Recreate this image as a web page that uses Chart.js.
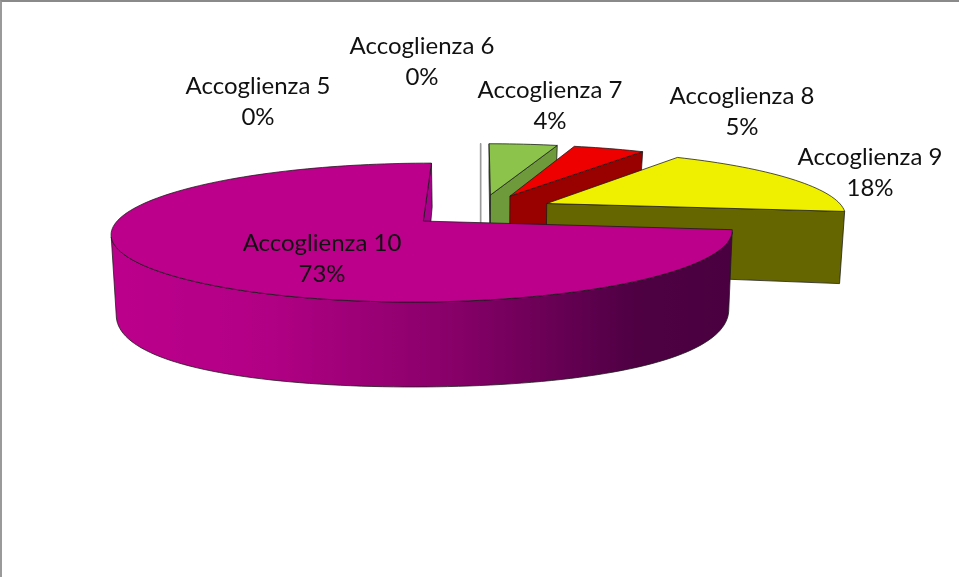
<!DOCTYPE html>
<html>
<head>
<meta charset="utf-8">
<style>
  html, body { margin: 0; padding: 0; background: #fff; }
  #wrap { position: relative; width: 959px; height: 577px; overflow: hidden; }
  #wrap::after { content: ""; position: absolute; left: 0; top: 0; right: 0; bottom: 0; border-top: 2px solid #8a8a8a; border-left: 2px solid #9a9a9a; }
  canvas { display: block; }
</style>
<script src="https://cdn.jsdelivr.net/npm/chart.js@4"></script>
</head>
<body>
<div id="wrap"><canvas id="pie3d" width="959" height="577"></canvas></div>
<script>
const categories = ["Accoglienza 5", "Accoglienza 6", "Accoglienza 7", "Accoglienza 8", "Accoglienza 9", "Accoglienza 10"];
const percentages = [0, 0, 4.4, 4.6, 18, 73];

const topColors = ["#d8d8d8", "#d8d8d8", "#8BC34B", "#EE0000", "#EFEF00", "#BC008C"];
const wallColors = ["#8c8c8c", "#8c8c8c", "#6F9A3C", "#990000", "#666600", "#A8008A"];
const labelCenters = [[258, 86], [422, 46], [550, 90], [742, 96], [870, 157], [322, 243]];

// prospettiva: centro, semiassi e distanza della camera
const view = { px: 480.6, py: 210.2, rx: 298, ry: 64, dist: 6.2 };

function project(x, y) {
  const f = view.dist / (view.dist - y);
  return [view.px + view.rx * x * f, view.py + view.ry * y * f];
}

// il piano inferiore: l'altezza cresce verso chi guarda
function lower(p) {
  const y = p[1];
  return [view.px + (p[0] - view.px) * 0.986, 283 + 1.364 * (y - 211) - 0.00321 * (y - 211) * (y - 233)];
}

function polyArea(pts) {
  let a = 0;
  pts.forEach((p, i) => {
    const q = pts[(i + 1) % pts.length];
    a += p[0] * q[1] - q[0] * p[1];
  });
  return a;
}

function tracePoly(ctx, pts) {
  ctx.beginPath();
  pts.forEach((p, i) => (i ? ctx.lineTo(p[0], p[1]) : ctx.moveTo(p[0], p[1])));
  ctx.closePath();
}

function paint(ctx, pts, fill) {
  tracePoly(ctx, pts);
  ctx.fillStyle = fill;
  ctx.fill();
  ctx.stroke();
}

function sideFill(ctx, i) {
  if (i !== 5) return wallColors[i];
  // la parete grande sfuma da sinistra a destra
  const g = ctx.createLinearGradient(110, 0, 731, 0);
  g.addColorStop(0, "#BC008C");
  g.addColorStop(0.25, "#B20085");
  g.addColorStop(0.55, "#880069");
  g.addColorStop(0.85, "#4E0043");
  g.addColorStop(1, "#4A0040");
  return g;
}

function drawSlice(ctx, el, i) {
  const { startAngle, endAngle, outerRadius } = el.getProps(["startAngle", "endAngle", "outerRadius"], true);
  const e = el.options.offset / outerRadius;
  const mid = (startAngle + endAngle) / 2;
  const ox = Math.cos(mid) * e;
  const oy = Math.sin(mid) * e;

  const apex = project(ox, oy);
  const steps = Math.max(1, Math.ceil((endAngle - startAngle) / 0.03));
  const rim = [];
  for (let s = 0; s <= steps; s++) {
    const a = startAngle + ((endAngle - startAngle) * s) / steps;
    rim.push(project(ox + Math.cos(a), oy + Math.sin(a)));
  }
  const first = rim[0];
  const last = rim[rim.length - 1];

  ctx.strokeStyle = "rgba(25,25,25,0.85)";
  ctx.lineWidth = 0.9;
  ctx.lineJoin = "round";

  if (startAngle === endAngle) {
    // fetta a zero: resta solo una linea
    ctx.strokeStyle = "#9a9a9a";
    ctx.lineWidth = 1.4;
    tracePoly(ctx, [first, lower(first), lower(apex), apex]);
    ctx.stroke();
    return;
  }

  const startWall = [apex, first, lower(first), lower(apex)];
  if (polyArea(startWall) < 0) paint(ctx, startWall, wallColors[i]);
  const endWall = [apex, last, lower(last), lower(apex)];
  if (polyArea(endWall) > 0) paint(ctx, endWall, wallColors[i]);

  // parete esterna, solo i tratti rivolti verso chi guarda
  let run = [];
  const flush = () => {
    if (run.length > 1) paint(ctx, run.concat(run.map(lower).reverse()), sideFill(ctx, i));
    run = [];
  };
  for (let s = 0; s < steps; s++) {
    const quad = [rim[s], rim[s + 1], lower(rim[s + 1]), lower(rim[s])];
    if (polyArea(quad) < 0) {
      if (!run.length) run.push(rim[s]);
      run.push(rim[s + 1]);
    } else {
      flush();
    }
  }
  flush();

  paint(ctx, [apex].concat(rim), el.options.backgroundColor);
}

const pie3d = {
  id: "pie3d",
  beforeDatasetDraw(chart, args) {
    const ctx = chart.ctx;
    const arcs = chart.getDatasetMeta(args.index).data;
    ctx.save();
    arcs.forEach((el, i) => drawSlice(ctx, el, i));
    ctx.restore();
    return false;
  },
  afterDraw(chart) {
    const ctx = chart.ctx;
    ctx.save();
    ctx.font = '24px Lato, "Open Sans", sans-serif';
    ctx.fillStyle = "#111";
    ctx.textAlign = "center";
    ctx.textBaseline = "middle";
    categories.forEach((name, i) => {
      const [x, y] = labelCenters[i];
      ctx.fillText(name, x, y);
      ctx.fillText(Math.round(percentages[i]) + "%", x, y + 31);
    });
    ctx.restore();
  },
};

new Chart(document.getElementById("pie3d"), {
  type: "pie",
  data: {
    labels: categories,
    datasets: [{
      data: percentages,
      backgroundColor: topColors,
      borderWidth: 0,
      offset: 64,
    }],
  },
  options: {
    responsive: false,
    animation: false,
    plugins: { legend: { display: false }, tooltip: { enabled: false } },
  },
  plugins: [pie3d],
});
</script>
</body>
</html>
